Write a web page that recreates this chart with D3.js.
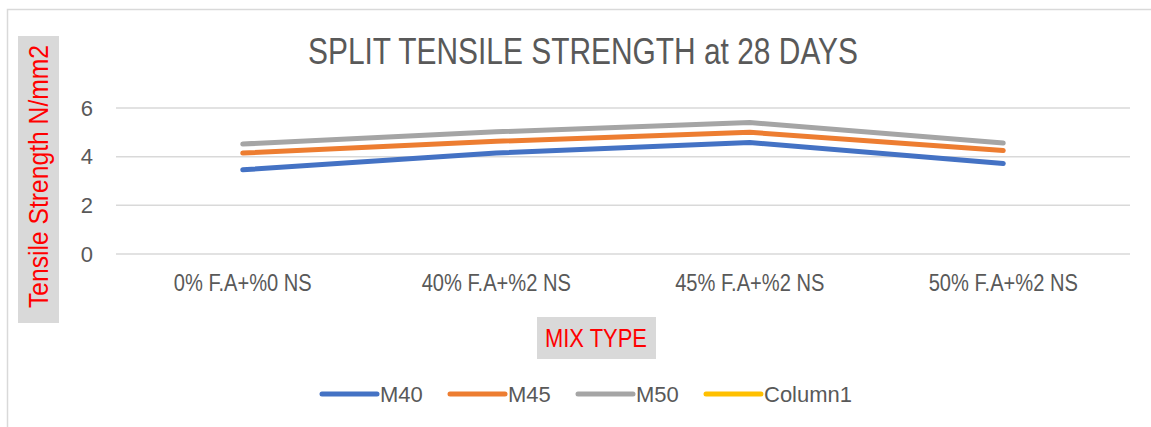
<!DOCTYPE html>
<html>
<head>
<meta charset="utf-8">
<script src="https://cdn.jsdelivr.net/npm/d3@7"></script>
<style>
  html, body { margin: 0; padding: 0; background: #ffffff; }
  svg { display: block; }
  text { font-family: "Liberation Sans Narrow", "Liberation Sans", sans-serif; }
</style>
</head>
<body>
<svg id="chart" width="1151" height="427"></svg>
<script>
const categories = ["0% F.A+%0 NS", "40% F.A+%2 NS", "45% F.A+%2 NS", "50% F.A+%2 NS"];
const seriesNames = ["M40", "M45", "M50", "Column1"];
const m40 = [3.46, 4.15, 4.58, 3.72];
const m45 = [4.15, 4.63, 5.0, 4.25];
const m50 = [4.52, 5.02, 5.4, 4.56];
const column1 = [];
const yTicks = [0, 2, 4, 6];
const colors = ["#4472c4", "#ed7d31", "#a5a5a5", "#ffc000"];

const series = [m40, m45, m50, column1];

const svg = d3.select("#chart");
const W = 1151, H = 427;

// chart area border
svg.append("rect").attr("x", 7.5).attr("y", 9.5).attr("width", W).attr("height", H)
  .attr("fill", "#ffffff").attr("stroke", "#d9d9d9").attr("stroke-width", 1.5);

const plot = { left: 116, right: 1130, top: 108, bottom: 254 };

const x = d3.scaleBand().domain(categories).range([plot.left, plot.right]);
const y = d3.scaleLinear().domain([0, 6]).range([plot.bottom, plot.top]);

// gridlines
svg.append("g").selectAll("line").data(yTicks).join("line")
  .attr("x1", plot.left).attr("x2", plot.right)
  .attr("y1", d => y(d)).attr("y2", d => y(d))
  .attr("stroke", "#d9d9d9").attr("stroke-width", 1.5);

// y axis labels
const yAxis = d3.axisLeft(y).tickValues(yTicks).tickFormat(d3.format("d")).tickSize(0).tickPadding(0);
const gy = svg.append("g").attr("transform", `translate(${plot.left - 23},0)`).call(yAxis);
gy.select(".domain").remove();
gy.selectAll("text").attr("font-size", 22).attr("fill", "#595959")
  .style("font-family", "'Liberation Sans Narrow', 'Liberation Sans', sans-serif");

// x axis labels
const xAxis = d3.axisBottom(x).tickSize(0).tickPadding(0);
const gx = svg.append("g").attr("transform", `translate(0,${plot.bottom + 20})`).call(xAxis);
gx.select(".domain").remove();
gx.selectAll("text").attr("font-size", 24).attr("fill", "#595959")
  .style("font-family", "'Liberation Sans Narrow', 'Liberation Sans', sans-serif");
// condense to match narrow face
const first = gx.select("text").node();
const factor = 138 / first.getComputedTextLength();
gx.selectAll("text").each(function () {
  const L = this.getComputedTextLength();
  d3.select(this).attr("textLength", L * factor).attr("lengthAdjust", "spacingAndGlyphs");
});

// lines
const line = d3.line().x((d, i) => x(categories[i]) + x.bandwidth() / 2).y(d => y(d));
series.forEach((s, k) => {
  if (!s.length) return;
  svg.append("path").datum(s).attr("d", line)
    .attr("fill", "none").attr("stroke", colors[k]).attr("stroke-width", 5)
    .attr("stroke-linecap", "round").attr("stroke-linejoin", "round");
});

// title
svg.append("text").attr("x", 583).attr("y", 64).attr("text-anchor", "middle")
  .attr("font-size", 36).attr("fill", "#595959")
  .attr("textLength", 550).attr("lengthAdjust", "spacingAndGlyphs")
  .text("SPLIT TENSILE STRENGTH at 28 DAYS");

// y axis title with box
svg.append("rect").attr("x", 18).attr("y", 36).attr("width", 41).attr("height", 287).attr("fill", "#d9d9d9");
svg.append("text").attr("transform", "translate(48,176.5) rotate(-90)")
  .attr("text-anchor", "middle").attr("font-size", 27).attr("fill", "#ff0000")
  .attr("textLength", 263).attr("lengthAdjust", "spacingAndGlyphs")
  .text("Tensile Strength N/mm2");

// x axis title with box
svg.append("rect").attr("x", 537).attr("y", 317).attr("width", 119).attr("height", 42).attr("fill", "#d9d9d9");
svg.append("text").attr("x", 596).attr("y", 347).attr("text-anchor", "middle")
  .attr("font-size", 26).attr("fill", "#ff0000")
  .attr("textLength", 102).attr("lengthAdjust", "spacingAndGlyphs")
  .text("MIX TYPE");

// legend
const legendX = [322, 450, 578, 706];
const lg = svg.append("g");
seriesNames.forEach((n, k) => {
  const g = lg.append("g").attr("transform", `translate(${legendX[k]},394)`);
  g.append("line").attr("x1", 0).attr("x2", 55).attr("y1", 0).attr("y2", 0)
    .attr("stroke", colors[k]).attr("stroke-width", 5).attr("stroke-linecap", "round");
  g.append("text").attr("x", 58).attr("y", 8).attr("font-size", 22).attr("fill", "#595959").text(n);
});
</script>
</body>
</html>
